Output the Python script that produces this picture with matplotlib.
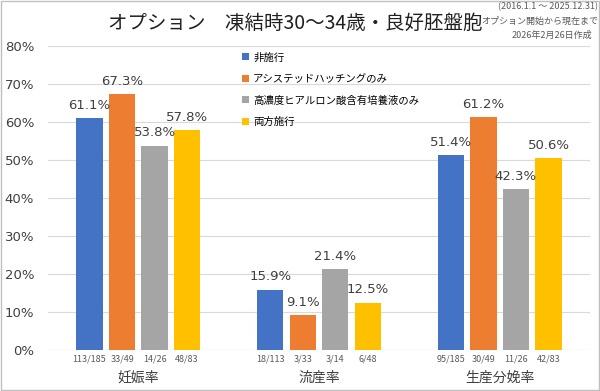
import numpy as np
import matplotlib.pyplot as plt

plt.rcParams['font.family'] = ['Noto Sans CJK JP', 'DejaVu Sans']

# Data
categories = ["妊娠率", "流産率", "生産分娩率"]
series_names = ["非施行", "アシステッドハッチングのみ", "高濃度ヒアルロン酸含有培養液のみ", "両方施行"]
colors = ["#4472C4", "#ED7D31", "#A5A5A5", "#FFC000"]
values = [
    [61.1, 15.9, 51.4],
    [67.3, 9.1, 61.2],
    [53.8, 21.4, 42.3],
    [57.8, 12.5, 50.6],
]
counts = [
    ["113/185", "18/113", "95/185"],
    ["33/49", "3/33", "30/49"],
    ["14/26", "3/14", "11/26"],
    ["48/83", "6/48", "42/83"],
]

fig = plt.figure(figsize=(6, 3.91), dpi=100)
ax = fig.add_axes([48/600, 41/391, 542/600, 304/391])

x = np.arange(len(categories))
step = 0.18
width = 0.145
for i, name in enumerate(series_names):
    pos = x + (i - 1.5) * step
    ax.bar(pos, values[i], width, color=colors[i], label=name, zorder=2)
    for p, v, c in zip(pos, values[i], counts[i]):
        ax.text(p, v + 1.6, f"{v:.1f}%", ha='center', va='bottom', fontsize=9.5,
                color='#404040', family=['DejaVu Sans'])
        ax.text(p, -1.2, c, ha='center', va='top', fontsize=6.5, color='#595959')

ax.set_xlim(-0.5, 2.5)
ax.set_ylim(0, 80)
ax.set_yticks(np.arange(0, 81, 10))
ax.set_yticklabels([f"{t}%" for t in range(0, 81, 10)], fontsize=9.5,
                   color='#404040', family=['DejaVu Sans'])
ax.set_xticks(x)
ax.set_xticklabels(categories, fontsize=10, color='#404040')
ax.tick_params(axis='x', length=0, pad=15)
ax.tick_params(axis='y', length=0, pad=10)
ax.grid(axis='y', color='#D9D9D9', linewidth=0.8, zorder=0)
for s in ax.spines.values():
    s.set_visible(False)
ax.axhline(0, color='#D9D9D9', linewidth=0.8, zorder=1)

ax.legend(loc='upper left', bbox_to_anchor=(0.34, 1.01), frameon=False,
          fontsize=7.5, handlelength=0.7, handleheight=0.7, labelspacing=1.1,
          handletextpad=0.4)

fig.text(0.492, 0.941, "オプション\u3000凍結時30～34歳・良好胚盤胞", ha='center', va='center',
         fontsize=14, color='#202020')
fig.text(0.997, 0.982, "(2016.1.1 ～ 2025.12.31)", ha='right', va='center', fontsize=6.5, color='#595959')
fig.text(0.997, 0.946, "オプション開始から現在まで", ha='right', va='center', fontsize=6.5, color='#595959')
fig.text(0.987, 0.910, "2026年2月26日作成", ha='right', va='center', fontsize=6.5, color='#595959')

fig.patches.append(plt.Rectangle((0.002, 0.002), 0.996, 0.996, transform=fig.transFigure,
                                 fill=False, edgecolor='#BFBFBF', linewidth=1))

fig.savefig("out.png", dpi=100)
